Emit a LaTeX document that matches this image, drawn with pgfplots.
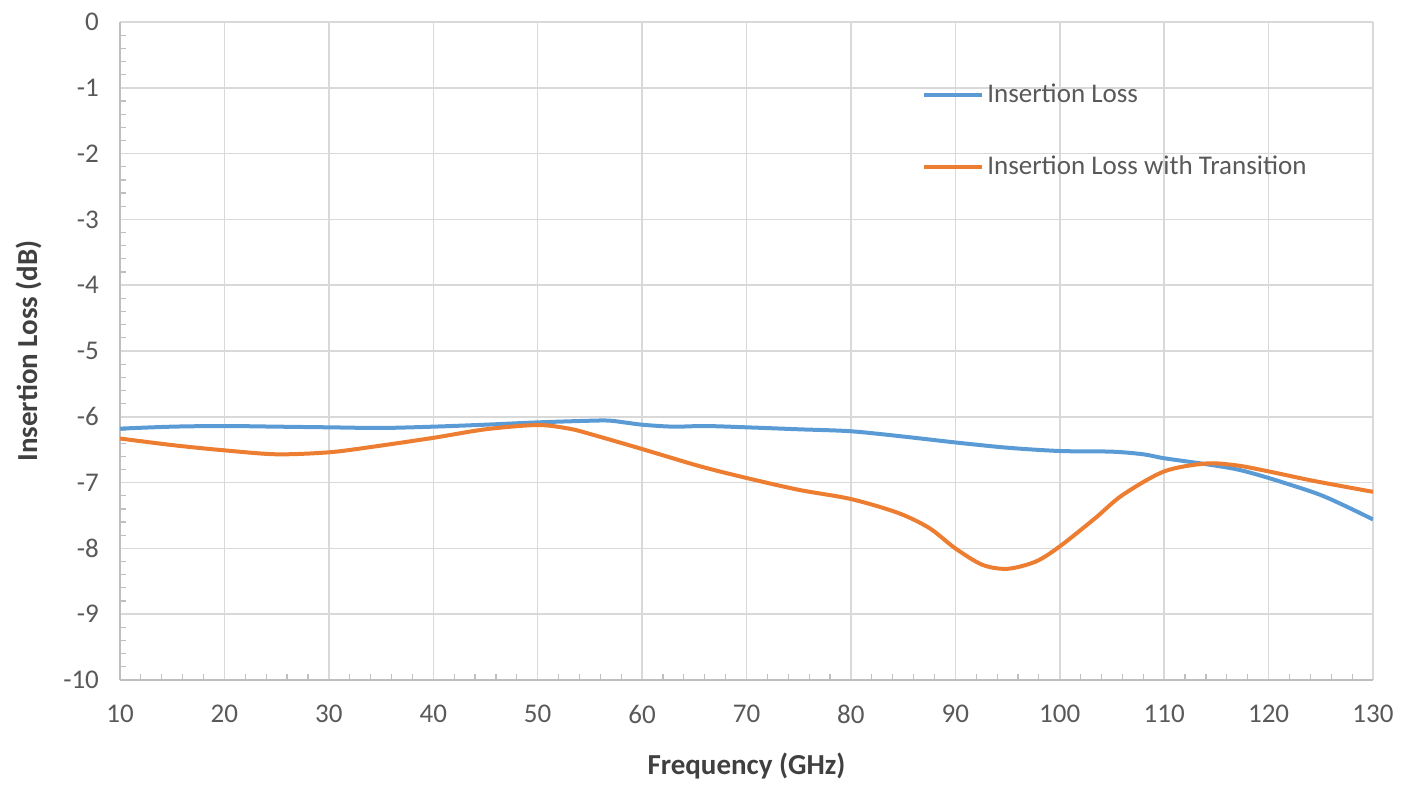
\documentclass[border=0pt]{standalone}
\usepackage{fontspec}
\setmainfont{Carlito}
\usepackage{pgfplots}
\pgfplotsset{compat=1.18}
\usetikzlibrary{calc}
\definecolor{ilblue}{HTML}{5B9BD5}
\definecolor{ilorange}{HTML}{ED7D31}
\definecolor{gridgray}{HTML}{D9D9D9}
\definecolor{axgray}{HTML}{BFBFBF}
\definecolor{ticktext}{HTML}{595959}
\definecolor{labeltext}{HTML}{404040}
\begin{document}
\begin{tikzpicture}
\begin{axis}[
  scale only axis,
  width=626.5pt, height=329pt,
  xmin=10, xmax=130, ymin=-10, ymax=0,
  xtick={10,20,...,130}, ytick={-10,-9,...,0},
  minor x tick num=4, minor y tick num=4,
  axis x line*=bottom, axis y line*=left,
  axis line style={draw=axgray, line width=0.8pt, -},
  grid=major,
  major grid style={draw=gridgray, line width=0.75pt},
  tick align=inside,
  major tick length=0pt, minor tick length=3pt,
  every tick/.style={draw=axgray, line width=0.6pt},
  /pgf/number format/assume math mode=true,
  ticklabel style={font=\fontsize{13.5}{16}\selectfont, text=ticktext},
  xticklabel style={yshift=-9pt},
  yticklabel style={xshift=-7pt},
  xlabel={Frequency (GHz)},
  ylabel={Insertion Loss (dB)},
  label style={font=\fontsize{14.5}{17}\selectfont\bfseries, text=labeltext},
  xlabel style={yshift=-8pt},
  ylabel style={yshift=4pt},
  legend cell align=left,
  legend style={draw=none, fill=none, at={(0.64,0.912)}, anchor=north west,
    font=\fontsize{13.5}{16}\selectfont, text=ticktext,
    row sep=21pt, inner sep=0pt,
    nodes={inner xsep=1.5pt, inner ysep=2pt}},
  legend image code/.code={\draw[#1] (0pt,0pt) -- (29pt,0pt);},
]
\addplot[ilblue, line width=2pt, smooth] coordinates {
(10,-6.18) (15,-6.15) (20,-6.14) (25,-6.15) (30,-6.16) (35,-6.17) (40,-6.15)
(45,-6.12) (50,-6.085) (55,-6.06) (57,-6.06) (60,-6.12) (63,-6.15) (66,-6.14)
(70,-6.16) (75,-6.19) (80,-6.22) (85,-6.30) (90,-6.39) (95,-6.47) (100,-6.52)
(105,-6.53) (108,-6.57) (110,-6.63) (114,-6.72) (117,-6.80) (120,-6.93)
(124.5,-7.16) (127,-7.33) (130,-7.56)
};
\addlegendentry{Insertion Loss}
\addplot[ilorange, line width=2pt, smooth] coordinates {
(10,-6.33) (15,-6.43) (20,-6.51) (25,-6.57) (30,-6.54) (34,-6.46) (40,-6.32)
(45,-6.19) (50,-6.125) (53,-6.18) (55,-6.26) (60,-6.49) (65.5,-6.75) (70,-6.93)
(75,-7.11) (80,-7.25) (84.5,-7.46) (87.5,-7.69) (90,-8.00) (92.6,-8.25)
(95,-8.31) (97.7,-8.20) (100,-7.97) (103.4,-7.54) (106,-7.19) (110,-6.83)
(114,-6.71) (117,-6.74) (120,-6.83) (124.5,-6.98) (130,-7.14)
};
\addlegendentry{Insertion Loss with Transition}
\end{axis}
\pgfresetboundingbox
\path ($(current axis.south west)+(-60pt,-52.5pt)$) rectangle ($(current axis.north east)+(24.5pt,11pt)$);
\end{tikzpicture}
\end{document}
